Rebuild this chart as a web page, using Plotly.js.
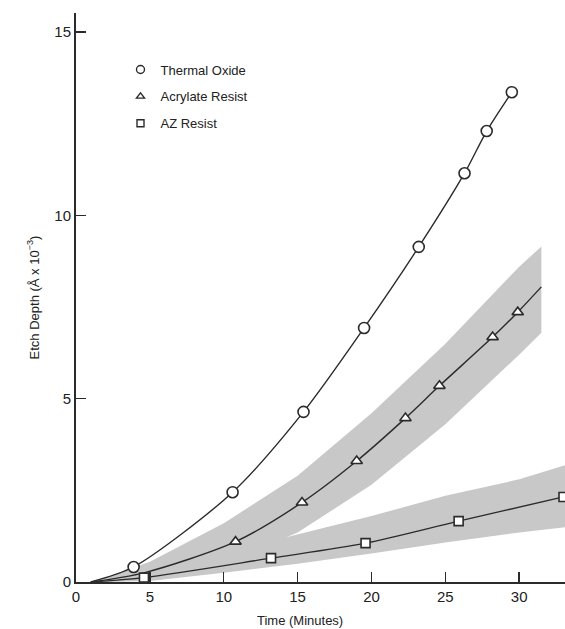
<!DOCTYPE html>
<html>
<head>
<meta charset="utf-8">
<script src="https://cdn.plot.ly/plotly-3.0.1.min.js"></script>
<style>html,body{margin:0;padding:0;background:#fff;}#chart{width:565px;height:629px;}</style>
</head>
<body>
<div id="chart"></div>
<script>
// Measured points (Time in minutes, Etch depth in Å x 10^-3)
const oxideX = [3.9, 10.6, 15.4, 19.5, 23.2, 26.3, 27.8, 29.5];
const oxideY = [0.41, 2.45, 4.64, 6.93, 9.14, 11.15, 12.3, 13.36];
const acrylX = [10.8, 15.3, 19.0, 22.3, 24.6, 28.2, 29.9];
const acrylY = [1.1, 2.17, 3.3, 4.47, 5.35, 6.68, 7.36];
const azX = [4.6, 13.2, 19.6, 25.9, 33.0];
const azY = [0.12, 0.65, 1.06, 1.66, 2.32];

// Fitted curves
const oxideCurveX = [1.0, 3.9, 10.6, 15.4, 19.5, 23.2, 26.3, 27.8, 29.5];
const oxideCurveY = [0, 0.41, 2.45, 4.64, 6.93, 9.14, 11.15, 12.3, 13.36];
const acrylCurveX = [1.0, 4.6, 10.8, 15.3, 19.0, 22.3, 24.6, 28.2, 29.9, 31.5];
const acrylCurveY = [0, 0.25, 1.1, 2.17, 3.3, 4.47, 5.35, 6.68, 7.36, 8.05];
const azCurveX = [1.0, 4.6, 13.2, 19.6, 25.9, 33.0, 33.2];
const azCurveY = [0, 0.12, 0.65, 1.06, 1.66, 2.32, 2.34];

// Scatter bands (lower / upper limits)
const acrylBandX = [1.5, 5, 10, 15, 20, 25, 30, 31.5];
const acrylBandLo = [0, 0.15, 0.5, 1.35, 2.65, 4.3, 6.2, 6.8];
const acrylBandHi = [0.05, 0.55, 1.6, 2.9, 4.6, 6.5, 8.6, 9.15];
const azBandX = [2, 5, 10, 15, 20, 25, 30, 33.2];
const azBandLo = [0, 0.03, 0.25, 0.5, 0.78, 1.08, 1.35, 1.5];
const azBandHi = [0.03, 0.3, 0.8, 1.3, 1.8, 2.35, 2.8, 3.2];

const legendNames = ['Thermal Oxide', 'Acrylate Resist', 'AZ Resist'];
const xTicks = [0, 5, 10, 15, 20, 25, 30];
const yTicks = [0, 5, 10, 15];

const ink = '#2b2b2b';
const bandColor = '#c8c8c8';

function band(xs, lo, hi) {
  return {
    x: xs.concat(xs.slice().reverse()),
    y: hi.concat(lo.slice().reverse()),
    type: 'scatter', mode: 'lines', fill: 'toself',
    fillcolor: bandColor, line: {width: 0, color: bandColor},
    hoverinfo: 'skip', showlegend: false
  };
}
function curve(xs, ys) {
  return {x: xs, y: ys, type: 'scatter', mode: 'lines',
    line: {color: ink, width: 1.4, shape: 'spline', smoothing: 0.8},
    showlegend: false, hoverinfo: 'skip'};
}
function pts(xs, ys, sym, size) {
  return {x: xs, y: ys, type: 'scatter', mode: 'markers',
    marker: {symbol: sym, size: size, color: '#ffffff', line: {color: ink, width: 1.6}},
    showlegend: false};
}
function leg(name, sym, size, g) {
  return {x: [null], y: [null], type: 'scatter', mode: 'markers', name: name,
    legendgroup: g,
    marker: {symbol: sym, size: size, color: '#ffffff', line: {color: ink, width: 1.4}},
    showlegend: true};
}

const data = [
  band(acrylBandX, acrylBandLo, acrylBandHi),
  band(azBandX, azBandLo, azBandHi),
  curve(oxideCurveX, oxideCurveY),
  curve(acrylCurveX, acrylCurveY),
  curve(azCurveX, azCurveY),
  pts(oxideX, oxideY, 'circle', 11),
  pts(acrylX, acrylY, 'triangle-up', 10),
  pts(azX, azY, 'square', 9),
  leg(legendNames[0], 'circle', 8, 'a'),
  leg(legendNames[1], 'triangle-up', 7, 'b'),
  leg(legendNames[2], 'square', 7, 'c')
];

const font = {family: '"Liberation Sans", Arial, sans-serif', color: '#222', size: 15};

const layout = {
  width: 565, height: 629,
  margin: {l: 76, r: 0, t: 13, b: 47, pad: 0},
  paper_bgcolor: '#fff', plot_bgcolor: '#fff',
  font: font,
  showlegend: true,
  legend: {x: 0.091, y: 0.927, xanchor: 'left', yanchor: 'top',
    bgcolor: 'rgba(0,0,0,0)', borderwidth: 0, traceorder: 'grouped', tracegroupgap: 7,
    itemwidth: 30, font: {family: font.family, size: 13, color: '#222'}},
  xaxis: {range: [0, 33.1], tickvals: xTicks, ticks: 'inside', ticklen: 10, tickwidth: 1.5,
    tickcolor: ink, showline: true, linecolor: ink, linewidth: 2, showgrid: false, zeroline: false,
    tickfont: {size: 15}, fixedrange: true},
  yaxis: {range: [0, 15.52], tickvals: yTicks, ticks: 'inside', ticklen: 10, tickwidth: 1.5,
    tickcolor: ink, showline: true, linecolor: ink, linewidth: 2, showgrid: false, zeroline: false,
    tickfont: {size: 15}, fixedrange: true,
    title: {text: 'Etch Depth (Å x 10<sup>−3</sup>)', font: {size: 13}, standoff: 12}},
  annotations: [{
    text: 'Time (Minutes)', xref: 'paper', yref: 'paper', x: 0.458, y: 0,
    xanchor: 'center', yanchor: 'top', yshift: -29, showarrow: false,
    font: {size: 13, family: font.family, color: '#222'}
  }]
};

Plotly.newPlot('chart', data, layout, {staticPlot: true});
</script>
</body>
</html>
